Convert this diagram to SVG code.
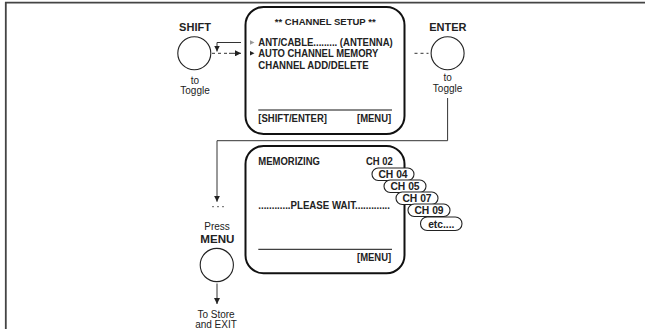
<svg xmlns="http://www.w3.org/2000/svg" width="645" height="329" viewBox="0 0 645 329">
<defs>
<marker id="arr" markerUnits="userSpaceOnUse" markerWidth="7" markerHeight="6" refX="6" refY="3" orient="auto">
<path d="M0,0 L6,3 L0,6 Z" fill="#222"/>
</marker>
<style>
.t{font-family:"Liberation Sans",Arial,sans-serif;fill:#222}
.b{font-weight:bold}
.box{fill:#fff;stroke:#111;stroke-width:2}
.btn{fill:#fff;stroke:#222;stroke-width:1.1}
.pill{fill:#fff;stroke:#222;stroke-width:1.1}
.ln{fill:none;stroke:#333;stroke-width:1}
.dash{fill:none;stroke:#333;stroke-width:1;stroke-dasharray:3,3}
</style>
</defs>
<rect width="645" height="329" fill="#fff"/>
<path d="M5.8,329 V2.7 H645" fill="none" stroke="#444" stroke-width="1.8"/>

<g id="connectors">
<polyline class="ln" points="241,42.5 217,42.5 217,51.5" marker-end="url(#arr)"/>
<line class="dash" x1="212" y1="53.3" x2="228" y2="53.3"/>
<line class="ln" x1="229" y1="53.3" x2="241" y2="53.3" marker-end="url(#arr)"/>
<line class="dash" x1="414.5" y1="53.3" x2="428.5" y2="53.3"/>
<polyline class="ln" points="447.6,98 447.6,140.7 217,140.7 217,201.7" marker-end="url(#arr)"/>
<line x1="212" y1="206.7" x2="224" y2="206.7" stroke="#555" stroke-width="0.9" stroke-dasharray="2,3"/>
<line class="ln" x1="217" y1="283.5" x2="217" y2="304" marker-end="url(#arr)"/>
</g>

<g id="shift">
<text class="t b" x="195" y="30.6" font-size="11" text-anchor="middle">SHIFT</text>
<circle class="btn" cx="194.3" cy="53.3" r="16.5"/>
<text class="t" x="194.8" y="83.5" font-size="10" text-anchor="middle">to</text>
<text class="t" x="195" y="94" font-size="10" text-anchor="middle">Toggle</text>
</g>

<g id="channel-setup">
<rect class="box" x="245.5" y="7" width="159" height="127" rx="18"/>
<text class="t b" x="325.2" y="25.2" font-size="9.5" text-anchor="middle" textLength="100.8" lengthAdjust="spacingAndGlyphs">** CHANNEL SETUP **</text>
<polygon points="250,40.2 250,44.8 254.5,42.5" fill="#999"/>
<polygon points="250,51 250,55.6 254.5,53.3" fill="#222"/>
<text class="t b" x="258.3" y="46.3" font-size="10" textLength="134.5" lengthAdjust="spacingAndGlyphs">ANT/CABLE......... (ANTENNA)</text>
<text class="t b" x="258.3" y="56.9" font-size="10" textLength="120" lengthAdjust="spacingAndGlyphs">AUTO CHANNEL MEMORY</text>
<text class="t b" x="258.3" y="69.3" font-size="10" textLength="110.3" lengthAdjust="spacingAndGlyphs">CHANNEL ADD/DELETE</text>
<line x1="258.3" y1="110" x2="392" y2="110" stroke="#888" stroke-width="2"/>
<text class="t b" x="258.3" y="121.9" font-size="10" textLength="68.7" lengthAdjust="spacingAndGlyphs">[SHIFT/ENTER]</text>
<text class="t b" x="391.2" y="121.9" font-size="10" text-anchor="end" textLength="34.2" lengthAdjust="spacingAndGlyphs">[MENU]</text>
</g>

<g id="enter">
<text class="t b" x="447.8" y="31.2" font-size="11" text-anchor="middle">ENTER</text>
<circle class="btn" cx="447.6" cy="53.3" r="16.5"/>
<text class="t" x="447.6" y="80.5" font-size="10" text-anchor="middle">to</text>
<text class="t" x="447.6" y="91.5" font-size="10" text-anchor="middle">Toggle</text>
</g>

<g id="memorizing">
<rect class="box" x="245.5" y="146" width="159" height="127.3" rx="18"/>
<text class="t b" x="258.3" y="165.3" font-size="10" textLength="61.7" lengthAdjust="spacingAndGlyphs">MEMORIZING</text>
<text class="t b" x="392.8" y="165.3" font-size="10" text-anchor="end" textLength="26.8" lengthAdjust="spacingAndGlyphs">CH 02</text>
<text class="t b" x="258.3" y="208.6" font-size="10" textLength="131.7" lengthAdjust="spacingAndGlyphs">............PLEASE WAIT.............</text>
<line x1="258.3" y1="249.3" x2="392" y2="249.3" stroke="#111" stroke-width="1"/>
<text class="t b" x="391.2" y="261.3" font-size="10" text-anchor="end" textLength="34.2" lengthAdjust="spacingAndGlyphs">[MENU]</text>
</g>

<g id="channels">
<rect class="pill" x="372" y="168" width="42" height="12.5" rx="6.2"/>
<text class="t b" x="393" y="178" font-size="10.3" text-anchor="middle">CH 04</text>
<rect class="pill" x="384" y="180" width="42" height="12.5" rx="6.2"/>
<text class="t b" x="405" y="190" font-size="10.3" text-anchor="middle">CH 05</text>
<rect class="pill" x="396" y="192" width="42" height="12.5" rx="6.2"/>
<text class="t b" x="417" y="202" font-size="10.3" text-anchor="middle">CH 07</text>
<rect class="pill" x="408" y="204" width="42" height="12.5" rx="6.2"/>
<text class="t b" x="429" y="214" font-size="10.3" text-anchor="middle">CH 09</text>
<rect class="pill" x="420.5" y="217" width="41.5" height="13.5" rx="6.7"/>
<text class="t b" x="441.3" y="227.5" font-size="10.3" text-anchor="middle">etc....</text>
</g>

<g id="menu">
<text class="t" x="217" y="229.6" font-size="10" text-anchor="middle">Press</text>
<text class="t b" x="217.4" y="243.3" font-size="11.5" text-anchor="middle" textLength="34.2" lengthAdjust="spacingAndGlyphs">MENU</text>
<circle class="btn" cx="216.8" cy="265" r="16.6"/>
<text class="t" x="216" y="318" font-size="10" text-anchor="middle">To Store</text>
<text class="t" x="216" y="328" font-size="10" text-anchor="middle">and EXIT</text>
</g>
</svg>
